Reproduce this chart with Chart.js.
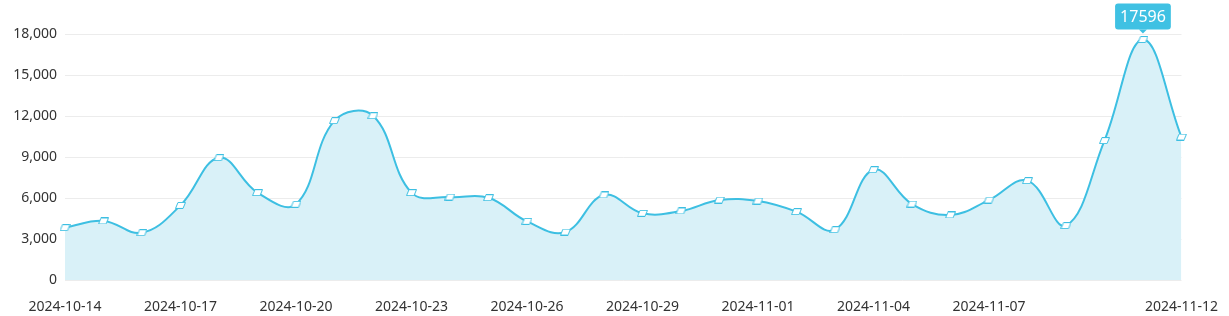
<!DOCTYPE html>
<html>
<head>
<meta charset="utf-8">
<script src="https://cdn.jsdelivr.net/npm/chart.js@4"></script>
<style>
  html, body { margin: 0; padding: 0; background: #fff; }
  #wrap { width: 1229px; height: 316px; }
</style>
</head>
<body>
<div id="wrap"><canvas id="trendChart" width="1229" height="316"></canvas></div>
<script>
const dates = [
  "2024-10-14", "2024-10-15", "2024-10-16", "2024-10-17", "2024-10-18", "2024-10-19",
  "2024-10-20", "2024-10-21", "2024-10-22", "2024-10-23", "2024-10-24", "2024-10-25",
  "2024-10-26", "2024-10-27", "2024-10-28", "2024-10-29", "2024-10-30", "2024-10-31",
  "2024-11-01", "2024-11-02", "2024-11-03", "2024-11-04", "2024-11-05", "2024-11-06",
  "2024-11-07", "2024-11-08", "2024-11-09", "2024-11-10", "2024-11-11", "2024-11-12",
];
const counts = [
  3830, 4320, 3460, 5460, 8950, 6390,
  5540, 11660, 12020, 6390, 6070, 6020,
  4290, 3510, 6220, 4880, 5050, 5850,
  5780, 5000, 3680, 8070, 5560, 4760,
  5850, 7270, 3980, 10200, 17596, 10460,
];
const shownDates = [
  "2024-10-14", "2024-10-17", "2024-10-20", "2024-10-23", "2024-10-26",
  "2024-10-29", "2024-11-01", "2024-11-04", "2024-11-07", "2024-11-12",
];
const yTicks = [0, 3000, 6000, 9000, 12000, 15000, 18000];

const LINE_COLOR = "#3dbfe2";
const FILL_COLOR = "#d9f1f8";
const TEXT_COLOR = "#333";
const FONT = "'Noto Sans', sans-serif";

// little slanted box used as point marker
function makeMarker() {
  const c = document.createElement("canvas");
  c.width = 11;
  c.height = 7;
  const g = c.getContext("2d");
  g.beginPath();
  g.moveTo(3, 0.5);
  g.lineTo(10.5, 0.5);
  g.lineTo(8, 6.5);
  g.lineTo(0.5, 6.5);
  g.closePath();
  g.fillStyle = "#fff";
  g.fill();
  g.strokeStyle = LINE_COLOR;
  g.lineWidth = 1;
  g.stroke();
  return c;
}

// blue bubble over the highest point
const maxLabel = {
  id: "maxLabel",
  afterDatasetsDraw(chart) {
    const data = chart.data.datasets[0].data;
    const idx = data.indexOf(Math.max(...data));
    const pt = chart.getDatasetMeta(0).data[idx];
    const c = chart.ctx;
    const text = String(data[idx]);
    c.save();
    c.font = "16px " + FONT;
    const w = c.measureText(text).width + 10;
    const h = 26;
    const tipY = pt.y - 6;
    const boxBottom = tipY - 4;
    const x0 = pt.x - w / 2;
    c.fillStyle = "#3fc1e3";
    c.beginPath();
    c.roundRect(x0, boxBottom - h, w, h, 3);
    c.fill();
    c.beginPath();
    c.moveTo(pt.x - 4, boxBottom);
    c.lineTo(pt.x + 4, boxBottom);
    c.lineTo(pt.x, tipY);
    c.closePath();
    c.fill();
    c.fillStyle = "#fff";
    c.textAlign = "center";
    c.textBaseline = "middle";
    c.fillText(text, pt.x, boxBottom - h / 2 + 1);
    c.restore();
  },
};

const ctx = document.getElementById("trendChart").getContext("2d");
const marker = makeMarker();

const config = {
  type: "line",
  data: {
    labels: dates,
    datasets: [
      {
        data: counts,
        borderColor: LINE_COLOR,
        borderWidth: 2,
        backgroundColor: FILL_COLOR,
        fill: "origin",
        tension: 0.4,
        pointStyle: marker,
        pointRadius: 4,
      },
    ],
  },
  options: {
    responsive: false,
    animation: false,
    events: [],
    layout: { padding: { top: 34, right: 40, left: 0, bottom: 0 } },
    plugins: {
      legend: { display: false },
      tooltip: { enabled: false },
    },
    scales: {
      x: {
        grid: { display: false },
        border: { display: false },
        afterFit: (axis) => { axis.height = 36; },
        ticks: {
          autoSkip: false,
          maxRotation: 0,
          padding: 11,
          color: TEXT_COLOR,
          font: { family: FONT, size: 14 },
          callback: function (value, index) {
            const label = this.getLabelForValue(value);
            return shownDates.includes(label) ? label : "";
          },
        },
      },
      y: {
        min: 0,
        max: 18000,
        afterFit: (axis) => { axis.width = 65; },
        afterBuildTicks: (axis) => { axis.ticks = yTicks.map((v) => ({ value: v })); },
        grid: { color: "#ececec", drawTicks: false },
        border: { display: false },
        ticks: {
          padding: 8,
          color: TEXT_COLOR,
          font: { family: FONT, size: 14 },
          callback: (v) => v.toLocaleString("en-US"),
        },
      },
    },
  },
  plugins: [maxLabel],
};

new Chart(ctx, config);
</script>
</body>
</html>
